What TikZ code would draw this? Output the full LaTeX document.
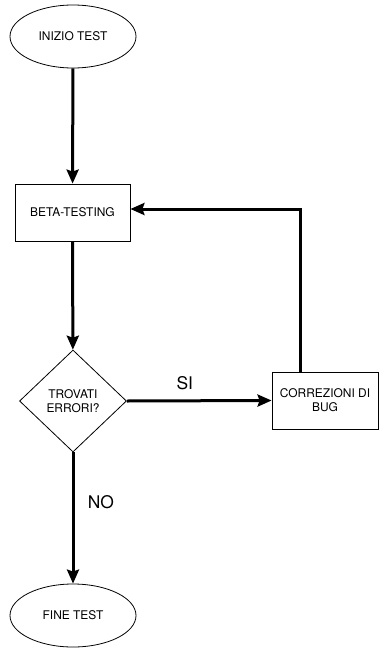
\documentclass[tikz,border=0pt]{standalone}
\usepackage{fontspec}
\setmainfont{TeX Gyre Heros}
\usetikzlibrary{arrows.meta, shapes.geometric, positioning}

\tikzset{
  block/.style={draw, line width=0.8bp, font=\fontsize{12}{14}\selectfont, align=center},
  term/.style={block, ellipse, minimum width=126bp, minimum height=63bp},
  proc/.style={block, rectangle, minimum height=57bp},
  choice/.style={block, diamond, minimum width=107bp, minimum height=102bp, inner sep=0pt},
  flow/.style={line width=3bp, -{Stealth[length=14bp, width=12bp, inset=2bp]}},
  lbl/.style={font=\fontsize{17.5}{20}\selectfont}
}

\begin{document}
\begin{tikzpicture}[x=1bp, y=-1bp]
  \useasboundingbox (0,0) rectangle (379,649);

  \node[term] (start) at (73,36.5) {INIZIO TEST};
  \node[proc, minimum width=115bp] (beta) at (72.5,212.5) {BETA-TESTING};
  \node[choice] (dec) at (73,401) {TROVATI\\ERRORI?};
  \node[proc, minimum width=106bp] (bug) at (325,400.5) {CORREZIONI DI\\BUG};
  \node[term] (end) at (73,615.5) {FINE TEST};

  \coordinate (loop) at (300,209);

  \draw[flow] (start) -- (beta);
  \draw[flow] (beta) -- (dec);
  \draw[flow] (dec.east) -- (bug.west) node[lbl, pos=0.4, above=6bp] {SI};
  \draw[flow] (bug.north -| loop) |- (loop -| beta.east);
  \draw[flow] (dec.south) -- (end.north) node[lbl, pos=0.38, right=10bp] {NO};
\end{tikzpicture}
\end{document}
